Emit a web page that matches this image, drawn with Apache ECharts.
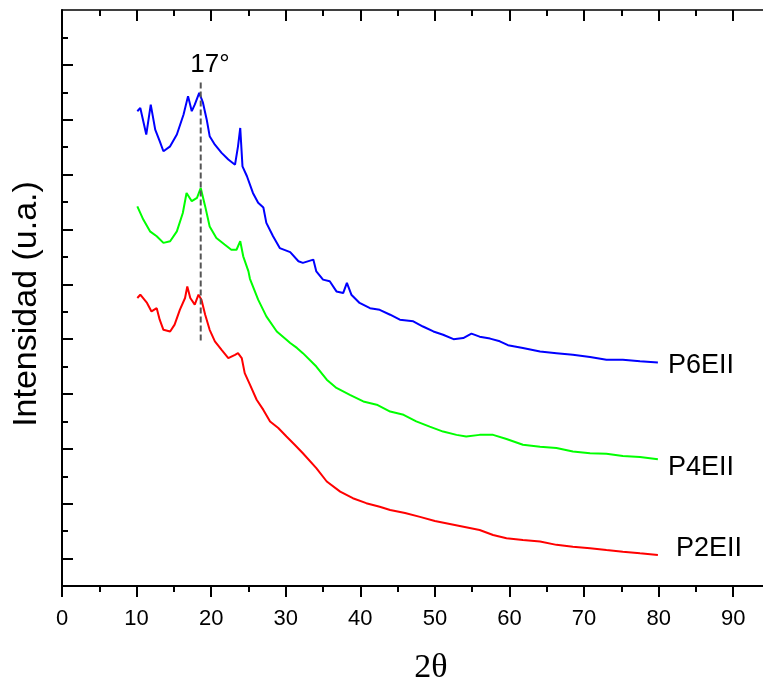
<!DOCTYPE html>
<html>
<head>
<meta charset="utf-8">
<script src="https://cdn.jsdelivr.net/npm/echarts@6/dist/echarts.min.js"></script>
<style>html,body{margin:0;padding:0;background:#fff;}#chart{width:763px;height:683px;}</style>
</head>
<body>
<div id="chart"></div>
<script>
// 2θ positions (degrees) and intensities (a.u.)
const p6X = [10.1,10.5,11.3,11.9,12.5,13.1,13.6,14.5,15.4,16.3,16.9,17.4,17.8,18.4,18.9,19.4,19.8,20.5,21.4,22.3,23.2,23.6,23.9,24.2,24.8,25.6,26.3,27.0,27.4,28.3,29.2,30.6,31.7,32.3,33.7,34.1,35.0,35.9,36.8,37.7,38.2,38.8,39.9,41.3,42.6,44.0,45.3,47.1,48.4,49.8,51.1,52.5,53.8,54.9,56.0,57.4,58.7,59.8,61.8,64.1,66.3,68.5,70.8,73.0,75.2,77.5,79.9];
const p6Y = [1731,1743,1646,1755,1664,1622,1585,1603,1646,1719,1786,1731,1755,1798,1762,1701,1640,1609,1579,1555,1536,1603,1670,1530,1494,1433,1397,1380,1324,1275,1232,1217,1184,1178,1190,1147,1117,1111,1074,1068,1105,1062,1032,1013,1007,989,971,965,946,928,916,900,904,920,909,902,892,878,868,855,849,843,835,825,825,819,815];

const p4X = [10.1,10.9,11.8,12.7,13.6,14.5,15.4,16.2,16.7,17.4,18.1,18.6,19.2,19.8,20.7,21.8,22.7,23.4,23.9,24.3,25.0,25.2,26.3,27.4,28.8,30.1,30.6,31.5,32.3,34.1,35.5,36.8,38.6,40.4,42.2,44.0,45.8,47.5,49.3,51.1,52.9,54.2,56.0,57.8,59.6,61.8,64.1,66.3,68.5,70.8,73.0,75.2,77.5,79.9];
const p4Y = [1384,1336,1293,1275,1251,1257,1293,1360,1433,1403,1415,1451,1384,1311,1269,1245,1226,1226,1257,1202,1147,1120,1044,983,928,898,886,868,849,800,752,722,697,673,661,636,624,600,581,563,551,545,551,551,536,515,508,503,490,484,482,474,470,462];

const p2X = [10.1,10.5,11.4,12.0,12.7,13.1,13.6,14.5,15.1,15.8,16.5,16.8,17.2,17.8,18.3,18.7,19.2,19.8,20.5,21.4,22.3,23.2,23.6,24.1,24.5,25.2,26.1,27.0,27.9,29.0,30.1,31.2,32.3,34.1,35.5,37.3,39.0,40.8,42.6,44.0,46.0,48.0,50.0,52.0,54.0,56.0,57.8,59.6,61.8,64.1,66.3,68.5,70.8,73.0,75.2,77.5,79.9];
const p2Y = [1050,1062,1032,1001,1013,971,934,928,953,1007,1050,1092,1050,1026,1062,1044,989,934,892,861,831,843,849,831,776,734,679,642,600,576,545,515,484,430,381,344,320,302,289,277,266,252,237,226,215,204,186,174,168,162,150,143,138,131,125,119,113];

// reference line at the main peak
const peakX = [18.6, 18.6];
const peakY = [1836, 890];

// axis ticks
const xMajor = [0,10,20,30,40,50,60,70,80,90];
const xMinor = [5,15,25,35,45,55,65,75,85];
const yMajor = [100,300,500,700,900,1100,1300,1500,1700,1900];
const yMinor = [200,400,600,800,1000,1200,1400,1600,1800,2000];

const seriesNames = ['P6EII','P4EII','P2EII'];
const seriesColors = ['#0000ff','#00ff00','#ff0000'];

function pairs(xs, ys){ return xs.map((x,i)=>[x, ys[i]]); }

const FONT = "'Liberation Sans', Arial, sans-serif";
const chart = echarts.init(document.getElementById('chart'), null, {renderer:'canvas'});

function xAx(pos, ticks, len, inside, labels, lineShow, lineW){
  return {
    type:'value', position:pos, min:0, max:95,
    axisLine:{show:lineShow, onZero:false, lineStyle:{color:'#000', width:lineW}},
    axisTick:{show:true, inside:inside, length:len, customValues:ticks, lineStyle:{color:'#000', width:2}},
    axisLabel: labels ? {show:true, customValues:ticks, fontSize:22, color:'#000', fontFamily:FONT, margin:22} : {show:false},
    splitLine:{show:false}
  };
}
function yAx(ticks, len, lineShow){
  return {
    type:'value', position:'left', min:0, max:2100,
    axisLine:{show:lineShow, onZero:false, lineStyle:{color:'#000', width:2}},
    axisTick:{show:true, inside:true, length:len, customValues:ticks, lineStyle:{color:'#000', width:2}},
    axisLabel:{show:false},
    splitLine:{show:false}
  };
}

const series = [[p6X,p6Y],[p4X,p4Y],[p2X,p2Y]].map((d,i)=>({
  name: seriesNames[i], type:'line', data: pairs(d[0], d[1]),
  xAxisIndex:0, yAxisIndex:0, showSymbol:false, symbol:'none',
  lineStyle:{color:seriesColors[i], width:2}, itemStyle:{color:seriesColors[i]}, z:3
}));
series.push({
  name:'peak', type:'line', data: pairs(peakX, peakY), xAxisIndex:0, yAxisIndex:0,
  symbol:'none', lineStyle:{color:'#555', width:2, type:[6,3]}, z:4
});

chart.setOption({
  animation:false,
  backgroundColor:'#fff',
  grid:{left:62, top:10, width:708.5, height:576, containLabel:false, outerBoundsMode:'none'},
  xAxis:[
    xAx('bottom', xMajor, 11, false, true, true, 2),
    xAx('bottom', xMinor, 6, false, false, false, 2),
    xAx('top', xMajor, 11, true, false, true, 1.5),
    xAx('top', xMinor, 6, true, false, false, 1.5)
  ],
  yAxis:[ yAx(yMajor, 11, true), yAx(yMinor, 6, false) ],
  series: series,
  graphic:[
    {type:'text', x:27, y:304, rotation:Math.PI/2, style:{text:'Intensidad (u.a.)', fontSize:34, fontFamily:FONT, fill:'#000', align:'center', verticalAlign:'middle'}},
    {type:'text', x:431, y:668, style:{text:'2\u03b8', fontSize:34, fontFamily:"'Liberation Serif', 'Times New Roman', serif", fill:'#000', align:'center', verticalAlign:'middle'}},
    {type:'text', x:210, y:65, style:{text:'17\u00b0', fontSize:26, fontFamily:FONT, fill:'#000', align:'center', verticalAlign:'middle'}},
    {type:'text', x:668, y:366, style:{text:seriesNames[0], fontSize:27, fontFamily:FONT, fill:'#000', align:'left', verticalAlign:'middle'}},
    {type:'text', x:668, y:468, style:{text:seriesNames[1], fontSize:27, fontFamily:FONT, fill:'#000', align:'left', verticalAlign:'middle'}},
    {type:'text', x:676, y:549, style:{text:seriesNames[2], fontSize:27, fontFamily:FONT, fill:'#000', align:'left', verticalAlign:'middle'}}
  ]
});
</script>
</body>
</html>
